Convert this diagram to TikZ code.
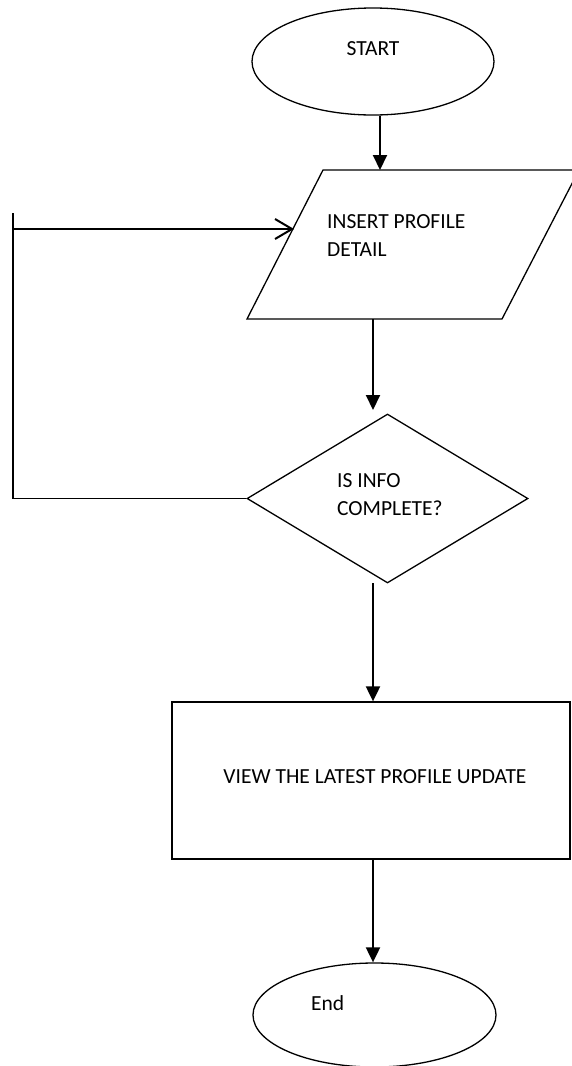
\documentclass[tikz,border=0pt]{standalone}
\usepackage{fontspec}
\setmainfont{Carlito}
\usetikzlibrary{shapes.geometric,arrows.meta}
\begin{document}
\begin{tikzpicture}[x=1pt,y=-1pt,
  outline/.style={draw=black,line width=1.3pt,inner sep=0pt},
  txt/.style={inner sep=0pt,font=\fontsize{21.5}{28}\selectfont},
  flow/.style={draw=black,line width=2pt,-{Triangle[length=15pt,width=14pt]}},
  loopline/.style={draw=black,line width=2pt},
  loopin/.style={draw=black,line width=2pt,-{Straight Barb[length=17pt,width=20pt,line width=2pt]}}]
\useasboundingbox (0,0) rectangle (571,1066);
\fill[white] (0,0) rectangle (571,1066);
% start
\node[outline,ellipse,minimum width=242pt,minimum height=107pt] (start) at (373,61.5) {};
\node[txt,anchor=base] (tstart) at (373,55) {START};
% parallelogram
\draw[line width=1.3pt] (323,170) coordinate (pTL) -- (579,170) coordinate (pTR)
   -- (502,319) coordinate (pBR) -- (247,319) coordinate (pBL) -- cycle;
\coordinate (pin) at (380,170);
\coordinate (pout) at (373,319);
\node[txt,anchor=north west,align=left] (tpara) at (327,214) {INSERT PROFILE\\DETAIL};
% diamond
\node[outline,diamond,minimum width=281pt,minimum height=169pt] (dia) at (387.5,498.5) {};
\node[txt,anchor=north west,align=left] (tdia) at (337,473) {IS INFO\\COMPLETE?};
\coordinate (din) at (373,410);
\coordinate (dout) at (373,583);
% box
\node[outline,rectangle,minimum width=398pt,minimum height=157pt] (box) at (371,780.5) {};
\node[txt,anchor=base] (tbox) at (375,783) {VIEW THE LATEST PROFILE UPDATE};
% end
\node[outline,ellipse,minimum width=243pt,minimum height=104pt] (end) at (374.5,1015) {};
\node[txt,anchor=base west] (tend) at (311,1010) {End};
% connectors
\draw[flow] (start.south -| pin) -- (pin);
\draw[flow] (pout) -- (din);
\draw[flow] (dout) -- (box.north -| dout);
\draw[flow] (box.south -| dout) -- (end.north -| dout);
% loop back
\coordinate (ltop) at (13,213);
\coordinate (lin) at (294,229);
\draw[line width=1.3pt] (dia.west) -- (dia.west -| ltop);
\draw[loopline] (dia.west -| ltop) -- (ltop);
\draw[loopin] (ltop |- lin) -- (lin);
\end{tikzpicture}
\end{document}
